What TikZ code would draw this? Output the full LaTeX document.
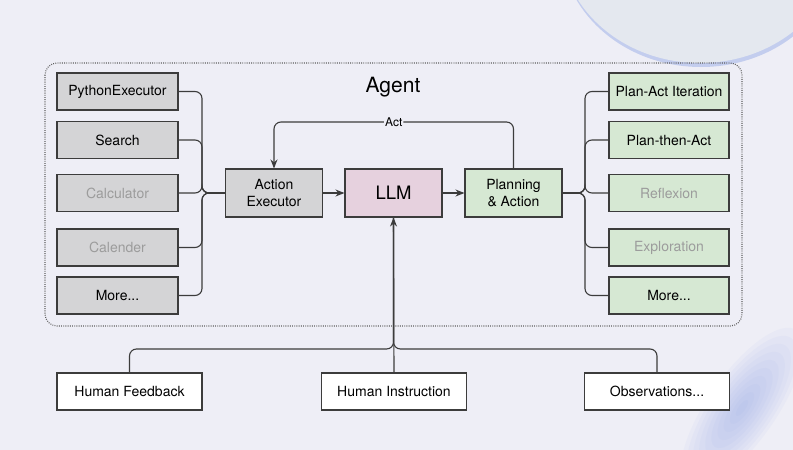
\documentclass[tikz,border=0pt]{standalone}
\usepackage{fontspec}
\setmainfont{TeX Gyre Heros}
\usetikzlibrary{arrows.meta}
\definecolor{bgcol}{HTML}{EEEEF6}
\definecolor{bubble}{HTML}{E4E8EF}
\definecolor{rimblue}{HTML}{C3CDEE}
\definecolor{glowcol}{HTML}{8EA2EC}
\definecolor{boxline}{HTML}{3C3C3C}
\definecolor{toolfill}{HTML}{D4D4D6}
\definecolor{fadetext}{HTML}{9C9C9C}
\definecolor{llmfill}{HTML}{E6D1DE}
\definecolor{planfill}{HTML}{D6E8D3}
\definecolor{framecol}{HTML}{5E5E5E}
\begin{document}
\begin{tikzpicture}[x=1pt, y=-1pt,
  box/.style={draw=boxline, line width=1.1pt, inner sep=0pt,
    minimum width=121pt, minimum height=37pt,
    font=\fontsize{14}{17}\selectfont},
  tool/.style={box, fill=toolfill},
  plan/.style={box, fill=planfill, minimum width=120pt},
  core/.style={box, minimum width=97pt, minimum height=48pt, align=center},
  input/.style={box, fill=white, minimum width=145pt},
  faded/.style={text=fadetext},
  link/.style={draw=boxline, line width=1.1pt, rounded corners=7pt},
  arr/.style={link, -{Stealth[length=9pt,width=7pt]}}
]
\useasboundingbox (0,0) rectangle (793,450);

% background
\fill [bgcol] (0,0) rectangle (793,450);
\fill [rimblue] (701,-57) ellipse [x radius=140pt, y radius=124pt];
\fill [bubble] (700,-61) ellipse [x radius=140pt, y radius=124pt];
\foreach \r in {1,...,10}
  \fill [glowcol, opacity=0.06] (742,408)
    ellipse [x radius=9.5pt*\r, y radius=3.4pt*\r, rotate=55];

% agent frame
\draw [framecol, line width=1.1pt, dash pattern=on 0.9pt off 1.3pt, rounded corners=12pt]
  (45,63) rectangle (742,326);
\node (agent) at (393,87) {\fontsize{21}{24}\selectfont Agent};

% tools
\node (py) [tool] at (117.5,91.5) {PythonExecutor};
\node (search) [tool] at (117.5,140) {Search};
\node (calc) [tool, faded] at (117.5,193) {Calculator};
\node (cal) [tool, faded] at (117.5,247.5) {Calender};
\node (tmore) [tool] at (117.5,295.5) {More...};

% core
\node (ae) [core, fill=toolfill] at (274,193) {Action\\Executor};
\node (llm) [core, fill=llmfill, font=\fontsize{18.5}{20}\selectfont] at (393.5,193) {LLM};
\node (pa) [core, fill=planfill] at (513.5,193) {Planning\\\& Action};

% plans
\node (pai) [plan] at (669,91.5) {Plan-Act Iteration};
\node (pta) [plan] at (669,140) {Plan-then-Act};
\node (refl) [plan, faded] at (669,193) {Reflexion};
\node (expl) [plan, faded] at (669,247.5) {Exploration};
\node (pmore) [plan] at (669,295.5) {More...};

% inputs
\node (hf) [input] at (129.5,391.5) {Human Feedback};
\node (hi) [input] at (394,391.5) {Human Instruction};
\node (obs) [input] at (657,391.5) {Observations...};

% connectors
\foreach \t in {py,search,calc,cal,tmore}
  \draw [link] (\t.east) -| (202,193) -- (ae.west);
\foreach \t in {pai,pta,refl,expl,pmore}
  \draw [link] (pa.east) -- (585,193) |- (\t.west);
\draw [arr] (ae) -- (llm);
\draw [arr] (llm) -- (pa);
\draw [arr] (pa.north) -- (pa.north |- 0,122) -- (ae.north |- 0,122)
  node [midway, fill=bgcol, inner sep=1pt, font=\fontsize{12}{14}\selectfont] {Act}
  -- (ae.north);
\draw [link] (hf.north) |- (llm.south |- 0,349) -- (llm.south);
\draw [link] (obs.north) |- (llm.south |- 0,349) -- (llm.south);
\draw [arr] (hi.north) -- (llm.south);
\end{tikzpicture}
\end{document}
